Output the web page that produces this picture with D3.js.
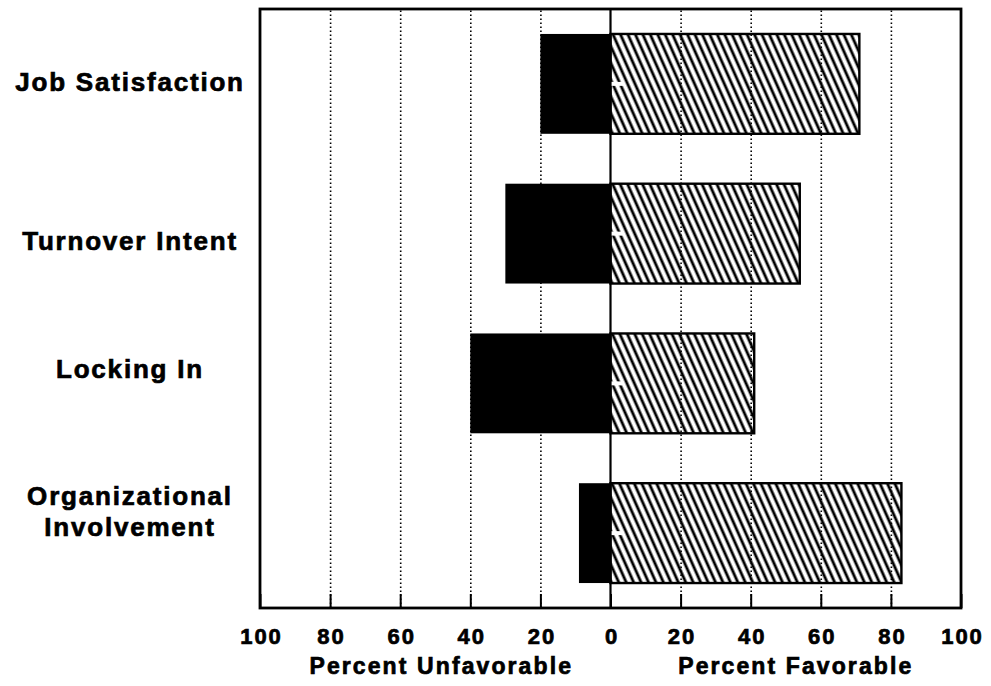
<!DOCTYPE html>
<html>
<head>
<meta charset="utf-8">
<script src="https://cdn.jsdelivr.net/npm/d3@7"></script>
<style>
	body { margin: 0; background: #fff; }
	text { font-family: "Liberation Sans", Arial, sans-serif; font-weight: bold; fill: #000; stroke: #000; stroke-width: 0.7px; }
	.grid line { stroke: #000; stroke-width: 1.6; stroke-dasharray: 1.6 2.4; }
	.grid path { display: none; }
</style>
</head>
<body>
<svg id="visualisation" width="991" height="686"></svg>
<script>

var categories = ["Job Satisfaction", "Turnover Intent", "Locking In", "Organizational Involvement"];
var unfavorable = [20, 30, 40, 9];
var favorable = [71, 54, 41, 83];
var tickValues = [-100, -80, -60, -40, -20, 0, 20, 40, 60, 80, 100];
var axisTitles = ["Percent Unfavorable", "Percent Favorable"];

initChart();

function initChart() {

	var svg = d3.select("#visualisation"),
		margins = { top: 9, right: 30, bottom: 78, left: 260 },
		width = 991,
		height = 686;

	var xRange = d3.scaleLinear().domain([-100, 100]).range([margins.left, width - margins.right]);
	var yRange = d3.scaleBand().domain(categories)
		.range([margins.top, height - margins.bottom])
		.paddingInner(1 / 3).paddingOuter(1 / 6);

	var defs = svg.append("defs");
	defs.append("pattern")
		.attr("id", "hatch")
		.attr("patternUnits", "userSpaceOnUse")
		.attr("width", 6.8)
		.attr("height", 10)
		.attr("patternTransform", "rotate(-24)")
		.append("line")
		.attr("x1", 2).attr("y1", 0)
		.attr("x2", 2).attr("y2", 10)
		.attr("stroke", "#000")
		.attr("stroke-width", 2.8);

	// dotted verticals
	svg.append("g")
		.attr("class", "grid")
		.attr("transform", "translate(0," + (height - margins.bottom) + ")")
		.call(d3.axisBottom(xRange)
			.tickValues(tickValues.filter(function (d) { return d != 0 && Math.abs(d) != 100; }))
			.tickSize(-(height - margins.bottom - margins.top))
			.tickFormat(""));

	var rows = categories.map(function (c, i) {
		return { cat: c, unfav: unfavorable[i], fav: favorable[i] };
	});

	svg.selectAll(".unfav")
		.data(rows)
		.enter().append("rect")
		.attr("class", "unfav")
		.attr("x", function (d) { return xRange(-d.unfav); })
		.attr("y", function (d) { return yRange(d.cat); })
		.attr("width", function (d) { return xRange(0) - xRange(-d.unfav); })
		.attr("height", yRange.bandwidth())
		.attr("fill", "#000");

	svg.selectAll(".fav")
		.data(rows)
		.enter().append("rect")
		.attr("class", "fav")
		.attr("x", xRange(0))
		.attr("y", function (d) { return yRange(d.cat); })
		.attr("width", function (d) { return xRange(d.fav) - xRange(0); })
		.attr("height", yRange.bandwidth())
		.attr("fill", "url(#hatch)")
		.attr("stroke", "#000")
		.attr("stroke-width", 2.4);

	// little notches at the zero line
	svg.selectAll(".notch")
		.data(rows)
		.enter().append("line")
		.attr("class", "notch")
		.attr("x1", xRange(0))
		.attr("x2", xRange(0) + 13)
		.attr("y1", function (d) { return yRange(d.cat) + yRange.bandwidth() / 2; })
		.attr("y2", function (d) { return yRange(d.cat) + yRange.bandwidth() / 2; })
		.attr("stroke", "#fff")
		.attr("stroke-width", 4);

	// zero line
	svg.append("line")
		.attr("x1", xRange(0)).attr("x2", xRange(0))
		.attr("y1", margins.top).attr("y2", height - margins.bottom)
		.attr("stroke", "#000")
		.attr("stroke-width", 2.2);

	// frame
	svg.append("rect")
		.attr("x", margins.left)
		.attr("y", margins.top)
		.attr("width", width - margins.right - margins.left)
		.attr("height", height - margins.bottom - margins.top)
		.attr("fill", "none")
		.attr("stroke", "#000")
		.attr("stroke-width", 2.8);

	// bottom axis, ticks pointing inward
	var xAxis = svg.append("g")
		.attr("transform", "translate(0," + (height - margins.bottom) + ")")
		.call(d3.axisBottom(xRange)
			.tickValues(tickValues)
			.tickSize(-14)
			.tickPadding(22)
			.tickFormat(function (d) { return Math.abs(d); }));
	xAxis.select(".domain").remove();
	xAxis.selectAll("line").attr("stroke", "#000").attr("stroke-width", 2);
	xAxis.selectAll("text")
		.attr("font-size", 22)
		.attr("dy", "0.71em")
		.style("letter-spacing", "2px")
		.attr("dx", 1)
		.attr("y", 20);

	svg.selectAll(".axis-title")
		.data(axisTitles)
		.enter().append("text")
		.attr("class", "axis-title")
		.attr("text-anchor", "middle")
		.attr("font-size", 23)
		.style("letter-spacing", "2.1px")
		.attr("x", function (d, i) { return i == 0 ? xRange(-50) + 6 : xRange(50) + 10; })
		.attr("y", 674)
		.text(function (d) { return d; });

	// category labels, hand placed a bit off the band centres like the original
	var nudge = [-2, 7, -15, -22];
	var labels = svg.selectAll(".cat")
		.data(rows)
		.enter().append("text")
		.attr("class", "cat")
		.attr("text-anchor", "middle")
		.attr("font-size", 26)
		.style("letter-spacing", "1.8px")
		.attr("x", 130)
		.attr("y", function (d, i) { return yRange(d.cat) + yRange.bandwidth() / 2 + nudge[i]; });

	labels.each(function (d) {
		var words = d.cat == "Organizational Involvement" ? ["Organizational", "Involvement"] : [d.cat];
		var t = d3.select(this);
		words.forEach(function (w, k) {
			t.append("tspan")
				.attr("x", 130)
				.attr("dy", k == 0 ? (0.36 - (words.length - 1) * 0.58) + "em" : "1.16em")
				.text(w);
		});
	});
}
</script>
</body>
</html>
